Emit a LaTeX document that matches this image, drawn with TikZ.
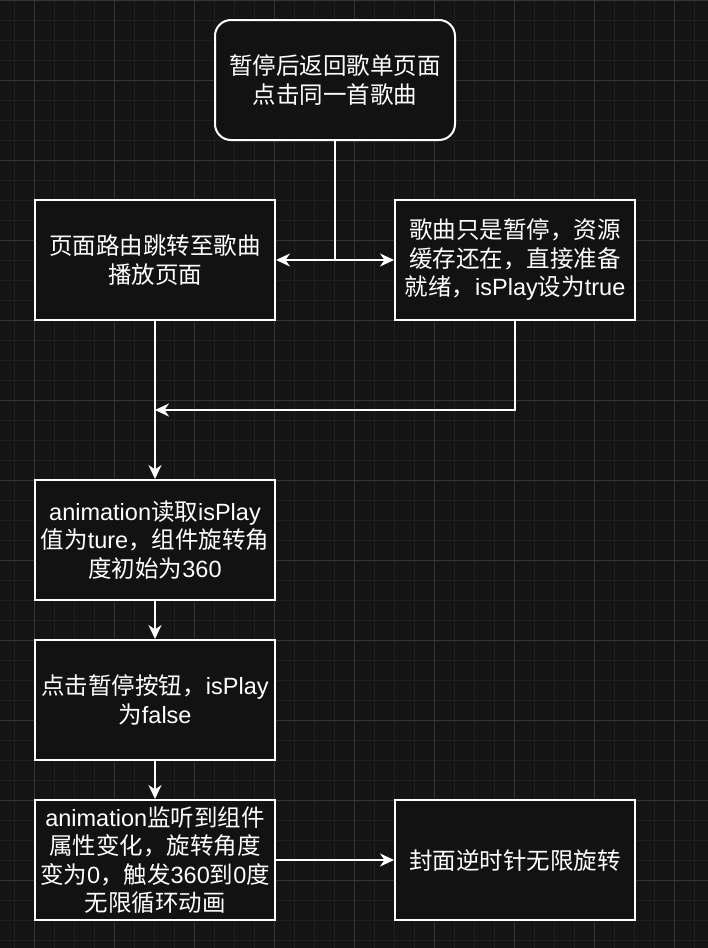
\documentclass[tikz,border=0pt]{standalone}
\usepackage{fontspec}
\setmainfont{Noto Sans CJK SC}
\newfontfamily\latf{Liberation Sans}
\newcommand\la[1]{{\latf #1}}
\usetikzlibrary{arrows.meta}
\definecolor{bgcol}{HTML}{141414}
\definecolor{minorgrid}{HTML}{1F1F1F}
\definecolor{majorgrid}{HTML}{363636}
\definecolor{boxfill}{HTML}{121212}
\begin{document}
\begin{tikzpicture}[x=1pt,y=-1pt,
  minorline/.style={draw=minorgrid, line width=1pt},
  majorline/.style={draw=majorgrid, line width=1pt},
  box/.style={draw=white, line width=2pt, fill=boxfill, minimum width=240pt,
    minimum height=120pt, inner sep=0pt, align=center, text=white,
    font=\fontsize{23.5}{28.5}\selectfont},
  roundbox/.style={box, rounded corners=16pt},
  tip/.tip={Stealth[length=14pt,width=13pt,inset=4.5pt]},
  conn/.style={draw=white, line width=2pt, -tip},
  dconn/.style={draw=white, line width=2pt, tip-tip}]
\fill[bgcol] (0,0) rectangle (708,948);
\useasboundingbox (0,0) rectangle (708,948);
\foreach \x in {14,34,...,694} \draw[minorline] (\x,0) -- (\x,948);
\foreach \y in {0,20,...,940} \draw[minorline] (0,\y) -- (708,\y);
\foreach \x in {34,114,...,674} \draw[majorline] (\x,0) -- (\x,948);
\foreach \y in {0,80,...,880} \draw[majorline] (0,\y) -- (708,\y);

\node[roundbox] (top) at (335,80) {暂停后返回歌单页面\\点击同一首歌曲};
\node[box] (b1) at (155,260) {页面路由跳转至歌曲\\播放页面};
\node[box] (b2) at (515,260) {歌曲只是暂停，资源\\缓存还在，直接准备\\就绪，\la{isPlay}设为\la{true}};
\node[box] (b3) at (155,540) {\la{animation}读取\la{isPlay}\\值为\la{ture}，组件旋转角\\度初始为\la{360}};
\node[box] (b4) at (155,700) {点击暂停按钮，\la{isPlay}\\为\la{false}};
\node[box] (b5) at (155,860) {\la{animation}监听到组件\\属性变化，旋转角度\\变为\la{0}，触发\la{360}到\la{0}度\\无限循环动画};
\node[box] (b6) at (515,860) {封面逆时针无限旋转};

\coordinate (j) at (335,260);
\coordinate (m) at (155,410);

\draw[white, line width=2pt] (top.south) -- (j);
\draw[dconn] (b1.east) -- (b2.west);
\draw[conn] (b2.south) |- (m);
\draw[conn] (b1.south) -- (b3.north);
\draw[conn] (b3.south) -- (b4.north);
\draw[conn] (b4.south) -- (b5.north);
\draw[conn] (b5.east) -- (b6.west);
\end{tikzpicture}
\end{document}
